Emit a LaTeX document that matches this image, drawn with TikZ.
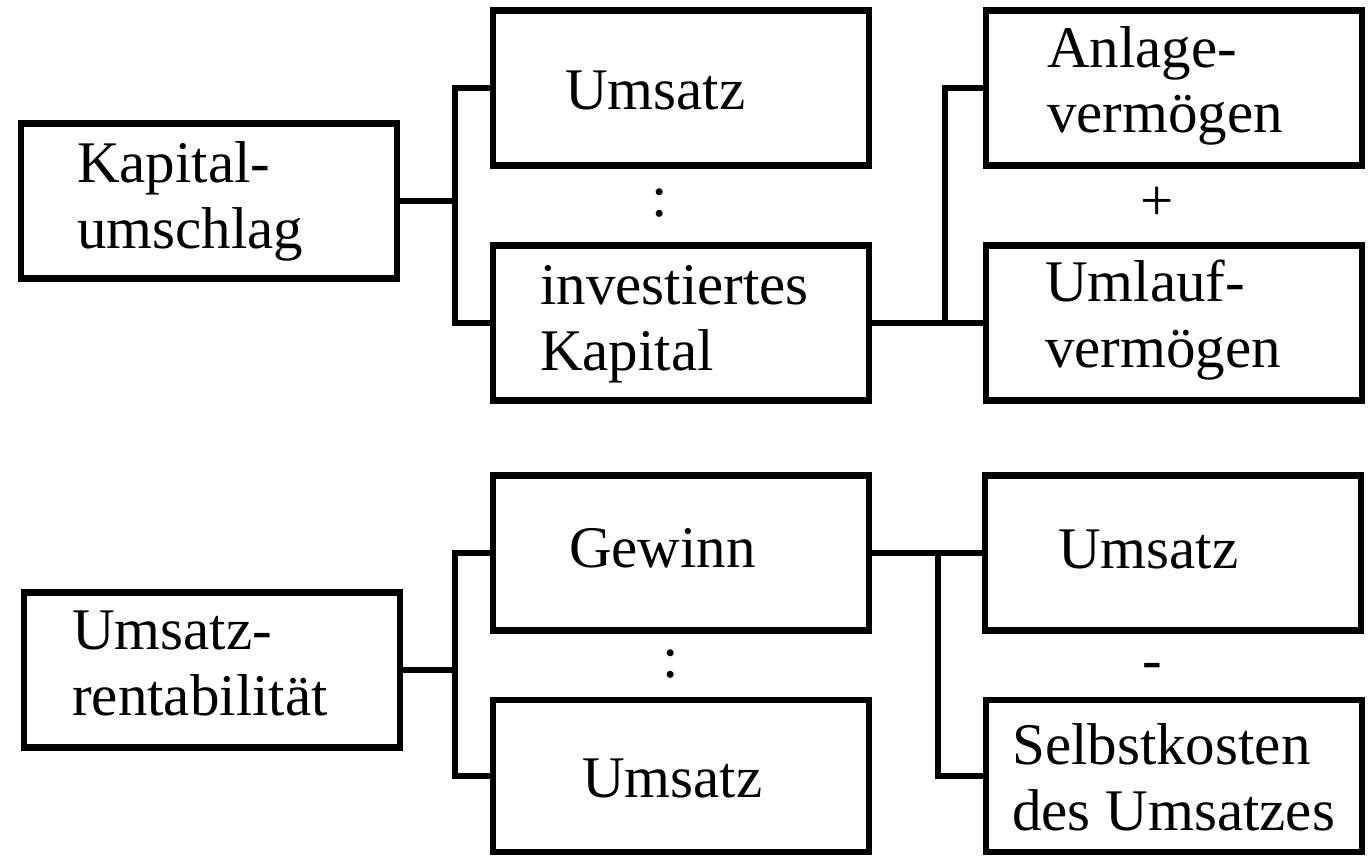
\documentclass[tikz,border=0pt]{standalone}
\usepackage{fontspec}
\setmainfont{Liberation Serif}
\usepackage{tikz}

\begin{document}
\begin{tikzpicture}[x=1pt, y=-1pt,
    block/.style={draw, line width=6.8pt, minimum width=376pt, minimum height=155pt, inner sep=0pt},
    lowblock/.style={block, minimum height=152pt},
    txt/.style={anchor=base west, align=left, inner sep=0pt, font=\fontsize{59}{65.5}\selectfont},
    sign/.style={anchor=base, inner sep=0pt, font=\fontsize{59}{65.5}\selectfont},
    link/.style={line width=6.8pt}]
    % Fix the page size
    \useasboundingbox (0,0) rectangle (1369,856);

    % Draw the boxes of the upper tree
    \node[block] (kap) at (209,201) {};
    \node[block] (ums1) at (681,88) {};
    \node[block] (inv) at (681,323) {};
    \node[block] (anl) at (1174,88) {};
    \node[block] (uml) at (1174,323) {};

    % Draw the boxes of the lower tree
    \node[block] (rent) at (212,670) {};
    \node[block] (gew) at (681,553) {};
    \node[lowblock] (ums2) at (681,776) {};
    \node[block] (ums3) at (1173,553) {};
    \node[lowblock] (selbst) at (1174,776) {};

    % Write the texts in the boxes (base = last line)
    \node[txt] (kapT) at (77,248) {Kapital-\\umschlag};
    \node[txt] (ums1T) at (565,110) {Umsatz};
    \node[txt] (invT) at (540,370) {investiertes\\Kapital};
    \node[txt] (anlT) at (1047,133) {Anlage-\\vermögen};
    \node[txt] (umlT) at (1045,367) {Umlauf-\\vermögen};
    \node[txt] (rentT) at (72,715) {Umsatz-\\rentabilität};
    \node[txt] (gewT) at (569,567) {Gewinn};
    \node[txt] (ums2T) at (582,797) {Umsatz};
    \node[txt] (ums3T) at (1058,568) {Umsatz};
    \node[txt] (selbstT) at (1012,830) {Selbstkosten\\des Umsatzes};

    % Write the operators between the boxes
    \node[sign] (div1) at (660,217) {:};
    \node[sign] (plus) at (1157,220) {+};
    \node[sign] (div2) at (671,677) {:};
    \node[sign] (minus) at (1152,679) {-};

    % Draw the connectors of the upper tree
    \coordinate (j1) at (455,201);
    \coordinate (j2) at (945,323);
    \draw[link] (kap.east) -- (j1);
    \draw[link] (ums1.west) -| (j1) |- (inv.west);
    \draw[link] (inv.east) -- (uml.west);
    \draw[link] (anl.west) -| (j2);

    % Draw the connectors of the lower tree
    \coordinate (j3) at (455,670);
    \coordinate (j4) at (938,553);
    \draw[link] (rent.east) -- (j3);
    \draw[link] (gew.west) -| (j3) |- (ums2.west);
    \draw[link] (gew.east) -- (ums3.west);
    \draw[link] (j4) |- (selbst.west);
\end{tikzpicture}
\end{document}
